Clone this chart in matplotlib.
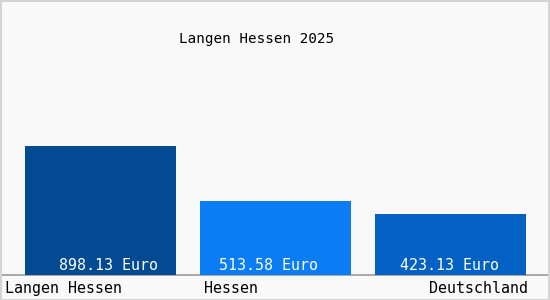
import matplotlib.pyplot as plt
from matplotlib.patches import Rectangle
from matplotlib.transforms import offset_copy

# data
categories = ["Langen Hessen", "Hessen", "Deutschland"]
values = [898.13, 513.58, 423.13]
value_labels = ["898.13 Euro", "513.58 Euro", "423.13 Euro"]
bar_colors = ["#034a92", "#0a7df5", "#0461c4"]
title = "Langen Hessen 2025"

W, H = 550, 300
fig = plt.figure(figsize=(W / 100, H / 100), dpi=100)
fig.patch.set_facecolor("#f9f9f9")
fig.patches.append(Rectangle((0.5 / W, 0.5 / H), 1 - 1.5 / W, 1 - 1.5 / H,
                             transform=fig.transFigure, fill=False,
                             edgecolor="#d4d4d4", linewidth=1.5))

# axes: bottom at y=275px, top at y=46px
ax = fig.add_axes([0, (H - 275) / H, 1, 229 / H])
ax.set_facecolor("none")
ax.set_xlim(-100.5 / 175, (550 - 100.5) / 175)
ax.set_ylim(0, 229 / 0.1436)
for s in ax.spines.values():
    s.set_visible(False)
ax.set_xticks([])
ax.set_yticks([])
ax.axhline(0, color="#999999", linewidth=1.2, clip_on=False)

mono = "DejaVu Sans Mono"
fs = 10.8
xs = range(len(values))
ax.bar(xs, values, width=151 / 175, color=bar_colors, zorder=2)

# value labels sit just above the axis line, a bit off-centre like the original
nudge = [8, -7, -1.5]
for x, v, lab, dx in zip(xs, values, value_labels, nudge):
    tr = offset_copy(ax.transData, fig=fig, x=dx, y=2.5, units="dots")
    ax.text(x, 0, lab, color="white", family=mono, fontsize=fs,
            ha="center", va="bottom", zorder=3, transform=tr)

# category labels under the axis
fig.text(5 / W, (H - 293) / H, categories[0], family=mono, fontsize=fs,
         ha="left", va="baseline", color="black")
fig.text(204 / W, (H - 293) / H, categories[1], family=mono, fontsize=fs,
         ha="left", va="baseline", color="black")
fig.text(528 / W, (H - 293) / H, categories[2], family=mono, fontsize=fs,
         ha="right", va="baseline", color="black")

fig.text(257 / W, (H - 43) / H, title, family=mono, fontsize=10.3,
         ha="center", va="baseline", color="black")

fig.savefig("out.png", dpi=100, facecolor=fig.get_facecolor())
